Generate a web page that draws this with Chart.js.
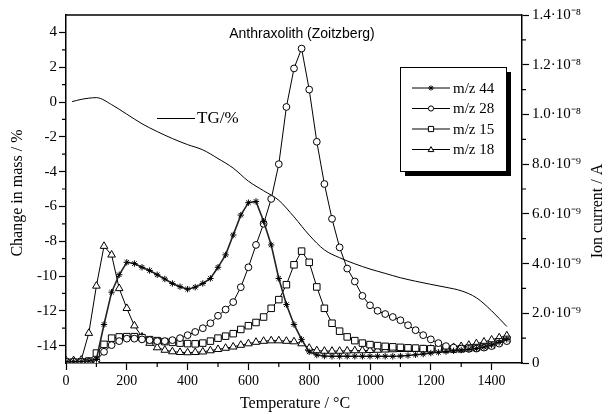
<!DOCTYPE html>
<html><head><meta charset="utf-8">
<script src="https://cdn.jsdelivr.net/npm/chart.js@4.4.0/dist/chart.umd.min.js"></script>
<style>html,body{margin:0;padding:0;background:#fff}#wrap{width:612px;height:414px;position:relative}</style>
</head><body><div id="wrap"><canvas id="c" width="612" height="414"></canvas></div>
<script>
// ---- data ----
const temps = [0,25,50,75,100,125,150,175,200,225,250,275,300,325,350,375,400,425,450,475,500,525,550,575,600,625,650,675,700,725,750,775,800,825,850,875,900,925,950,975,1000,1025,1050,1075,1100,1125,1150,1175,1200,1225,1250,1275,1300,1325,1350,1375,1400,1425,1450];
// ion currents in units of 1e-9 A
const mz44 = [0.05,0.05,0.06,0.08,0.14,1.55,2.85,3.55,4.05,4.0,3.85,3.72,3.55,3.38,3.2,3.07,2.97,3.05,3.2,3.4,3.85,4.35,5.15,5.95,6.45,6.5,5.7,4.75,3.4,2.35,1.55,0.95,0.45,0.32,0.28,0.27,0.27,0.27,0.27,0.27,0.27,0.27,0.27,0.27,0.28,0.3,0.33,0.36,0.4,0.43,0.46,0.49,0.52,0.55,0.58,0.64,0.72,0.83,0.95];
const mz28 = [0.05,0.05,0.05,0.05,0.1,0.45,0.72,0.88,0.98,0.98,0.95,0.92,0.88,0.88,0.92,1.0,1.12,1.25,1.4,1.6,1.9,2.15,2.45,3.05,3.85,4.75,5.6,6.6,8.0,10.3,11.85,12.65,11.0,8.9,7.2,5.8,4.65,3.8,3.28,2.7,2.32,2.1,1.97,1.85,1.72,1.52,1.32,1.12,0.95,0.8,0.68,0.62,0.58,0.57,0.58,0.62,0.68,0.78,0.88];
const mz15 = [0.04,0.04,0.05,0.08,0.4,0.75,1.0,1.05,1.06,1.06,1.02,0.94,0.9,0.86,0.83,0.8,0.78,0.77,0.8,0.88,1.0,1.08,1.18,1.35,1.5,1.63,1.85,2.2,2.55,3.15,3.95,4.5,4.05,3.06,2.2,1.6,1.28,1.05,0.9,0.8,0.74,0.7,0.67,0.65,0.63,0.61,0.6,0.58,0.57,0.56,0.56,0.56,0.57,0.6,0.62,0.66,0.72,0.85,0.95];
const mz18 = [0.1,0.1,0.12,1.2,3.1,4.7,4.35,3.0,2.2,1.5,1.05,0.8,0.62,0.52,0.46,0.43,0.42,0.43,0.45,0.5,0.55,0.6,0.65,0.72,0.78,0.84,0.88,0.9,0.9,0.88,0.86,0.78,0.6,0.5,0.48,0.48,0.48,0.49,0.5,0.5,0.51,0.52,0.53,0.54,0.55,0.55,0.55,0.55,0.56,0.58,0.6,0.63,0.67,0.72,0.78,0.85,0.93,1.02,1.1];
// TG curve, % mass change
const tgTemps = [20,50,100,150,200,250,300,350,400,450,500,550,600,650,700,750,800,850,900,950,1000,1050,1100,1150,1200,1250,1300,1350,1400,1450];
const tgMass = [0.02,0.15,0.25,-0.15,-0.7,-1.25,-1.7,-2.1,-2.45,-2.75,-3.25,-3.8,-4.55,-5.1,-5.65,-6.6,-7.65,-8.5,-8.95,-9.3,-9.6,-9.85,-10.1,-10.3,-10.48,-10.65,-10.85,-11.25,-12.0,-12.9];
const seriesNames = ['m/z 44','m/z 28','m/z 15','m/z 18'];
const xTicks = [0,200,400,600,800,1000,1200,1400];
const xTickLabels = ['0','200','400','600','800','1000','1200','1400'];
const xMinor = [100,300,500,700,900,1100,1300];
const leftTicks = [-14,-12,-10,-8,-6,-4,-2,0,2,4];
const leftTickLabels = ['-14','-12','-10','-8','-6','-4','-2','0','2','4'];
const leftMinor = [-13,-11,-9,-7,-5,-3,-1,1,3];
const rightTicks = [0,2,4,6,8,10,12,14];
const rightTickLabels = ['0','2.0·10⁻⁹','4.0·10⁻⁹','6.0·10⁻⁹','8.0·10⁻⁹','1.0·10⁻⁸','1.2·10⁻⁸','1.4·10⁻⁸'];
const rightMinor = [1,3,5,7,9,11,13];

const SERIF = "'Liberation Serif','Times New Roman',serif";
const SANS = "'Liberation Sans',Arial,sans-serif";

function pts(xs, ys){ return xs.map((x,i)=>({x:x,y:ys[i]})); }
function lbl(ticks, labels){ return v=>{const i=ticks.indexOf(v); return i>=0?labels[i]:'';}; }

function drawMarker(ctx, style, x, y, r){
  ctx.save();
  ctx.strokeStyle='#000'; ctx.fillStyle='#fff'; ctx.lineWidth=1;
  ctx.beginPath();
  if(style==='circle'){ ctx.arc(x,y,r,0,Math.PI*2); ctx.fill(); ctx.stroke(); }
  else if(style==='rect'){ ctx.rect(x-r,y-r,2*r,2*r); ctx.fill(); ctx.stroke(); }
  else if(style==='triangle'){ ctx.moveTo(x,y-r*1.1); ctx.lineTo(x+r*1.1,y+r*0.8); ctx.lineTo(x-r*1.1,y+r*0.8); ctx.closePath(); ctx.fill(); ctx.stroke(); }
  else if(style==='star'){ for(let k=0;k<4;k++){const a=k*Math.PI/4; ctx.moveTo(x-r*Math.cos(a),y-r*Math.sin(a)); ctx.lineTo(x+r*Math.cos(a),y+r*Math.sin(a));} ctx.stroke(); }
  ctx.restore();
}

const decor = {
  id:'decor',
  afterDraw(chart){
    const ctx = chart.ctx, a = chart.chartArea;
    const sx = chart.scales.x, sy = chart.scales.y, sy2 = chart.scales.y2;
    ctx.save();
    ctx.strokeStyle='#000'; ctx.lineWidth=1.5;
    ctx.beginPath(); ctx.moveTo(a.left, a.top); ctx.lineTo(a.right, a.top); ctx.stroke();
    ctx.lineWidth=1.2;
    ctx.beginPath();
    xMinor.forEach(v=>{const p=sx.getPixelForValue(v); ctx.moveTo(p,a.bottom); ctx.lineTo(p,a.bottom+4);});
    leftMinor.forEach(v=>{const p=sy.getPixelForValue(v); ctx.moveTo(a.left,p); ctx.lineTo(a.left-4,p);});
    rightMinor.forEach(v=>{const p=sy2.getPixelForValue(v); ctx.moveTo(a.right,p); ctx.lineTo(a.right+4,p);});
    ctx.stroke();
    // title
    ctx.fillStyle='#000';
    ctx.font = '14px '+SANS; ctx.textAlign='center'; ctx.textBaseline='middle';
    ctx.fillText('Anthraxolith (Zoitzberg)', 302, 34);
    // axis titles
    ctx.font = '16px '+SERIF;
    ctx.fillText('Temperature / °C', 295, 404);
    ctx.save(); ctx.translate(18,193); ctx.rotate(-Math.PI/2); ctx.fillText('Change in mass / %',0,0); ctx.restore();
    ctx.save(); ctx.translate(598,211); ctx.rotate(-Math.PI/2); ctx.fillText('Ion current / A',0,0); ctx.restore();
    // TG label
    ctx.lineWidth=1;
    ctx.beginPath(); ctx.moveTo(157,118.5); ctx.lineTo(195,118.5); ctx.stroke();
    ctx.font='17px '+SERIF; ctx.textAlign='left';
    ctx.fillText('TG/%', 197, 119);
    // legend
    const lx=400, ly=67, lw=106, lh=104;
    ctx.fillStyle='#000'; ctx.fillRect(lx+5, ly+5, lw, lh);
    ctx.fillStyle='#fff'; ctx.fillRect(lx, ly, lw, lh);
    ctx.strokeStyle='#000'; ctx.lineWidth=1; ctx.strokeRect(lx+0.5, ly+0.5, lw, lh);
    const styles=['star','circle','rect','triangle'];
    ctx.font='15px '+SERIF; ctx.fillStyle='#000';
    seriesNames.forEach((n,i)=>{
      const y = 88 + i*20.5;
      ctx.beginPath(); ctx.moveTo(412,y); ctx.lineTo(450,y); ctx.stroke();
      drawMarker(ctx, styles[i], 431, y, 2.6);
      ctx.fillStyle='#000'; ctx.fillText(n, 453, y+1);
    });
    ctx.restore();
  }
};

const ionCommon = {yAxisID:'y2', borderColor:'#000', borderWidth:1, pointBorderColor:'#000', pointBackgroundColor:'#fff', pointBorderWidth:1, tension:0};

new Chart(document.getElementById('c'), {
  type:'line',
  data:{datasets:[
    Object.assign({label:seriesNames[0], data:pts(temps,mz44), pointStyle:'star', pointRadius:3.2, borderWidth:1.6, borderColor:'#222'}, {yAxisID:'y2', pointBorderColor:'#000', pointBorderWidth:1, tension:0}),
    Object.assign({}, ionCommon, {label:seriesNames[1], data:pts(temps,mz28), pointStyle:'circle', pointRadius:3.4}),
    Object.assign({}, ionCommon, {label:seriesNames[2], data:pts(temps,mz15), pointStyle:'rect', pointRadius:4.6}),
    Object.assign({}, ionCommon, {label:seriesNames[3], data:pts(temps,mz18), pointStyle:'triangle', pointRadius:4.4}),
    {label:'TG/%', data:pts(tgTemps,tgMass), yAxisID:'y', borderColor:'#000', borderWidth:1, pointRadius:0, cubicInterpolationMode:'monotone'}
  ]},
  options:{
    responsive:false, animation:false, devicePixelRatio:1,
    layout:{padding:{top:15,left:0,right:0,bottom:0}},
    plugins:{legend:{display:false}, tooltip:{enabled:false}, title:{display:false}},
    scales:{
      x:{type:'linear', position:'bottom', min:0, max:1500,
        afterBuildTicks:s=>{s.ticks=xTicks.map(v=>({value:v}));},
        afterFit:s=>{s.height=51;},
        grid:{drawOnChartArea:false, drawTicks:true, tickLength:7, tickColor:'#000', tickWidth:1.2},
        border:{display:true, color:'#000', width:1.5},
        ticks:{color:'#000', font:{family:SERIF, size:14}, padding:3, maxRotation:0, autoSkip:false, callback:lbl(xTicks,xTickLabels)}},
      y:{type:'linear', position:'left', min:-15, max:5,
        afterBuildTicks:s=>{s.ticks=leftTicks.map(v=>({value:v}));},
        afterFit:s=>{s.width=66;},
        grid:{drawOnChartArea:false, drawTicks:true, tickLength:7, tickColor:'#000', tickWidth:1.2},
        border:{display:true, color:'#000', width:1.5},
        ticks:{color:'#000', font:{family:SERIF, size:15}, padding:2, autoSkip:false, callback:lbl(leftTicks,leftTickLabels)}},
      y2:{type:'linear', position:'right', min:0, max:14,
        afterBuildTicks:s=>{s.ticks=rightTicks.map(v=>({value:v}));},
        afterFit:s=>{s.width=90;},
        grid:{drawOnChartArea:false, drawTicks:true, tickLength:7, tickColor:'#000', tickWidth:1.2},
        border:{display:true, color:'#000', width:1.5},
        ticks:{color:'#000', font:{family:SERIF, size:15}, padding:3, autoSkip:false, callback:lbl(rightTicks,rightTickLabels)}}
    }
  },
  plugins:[decor]
});
</script></body></html>
